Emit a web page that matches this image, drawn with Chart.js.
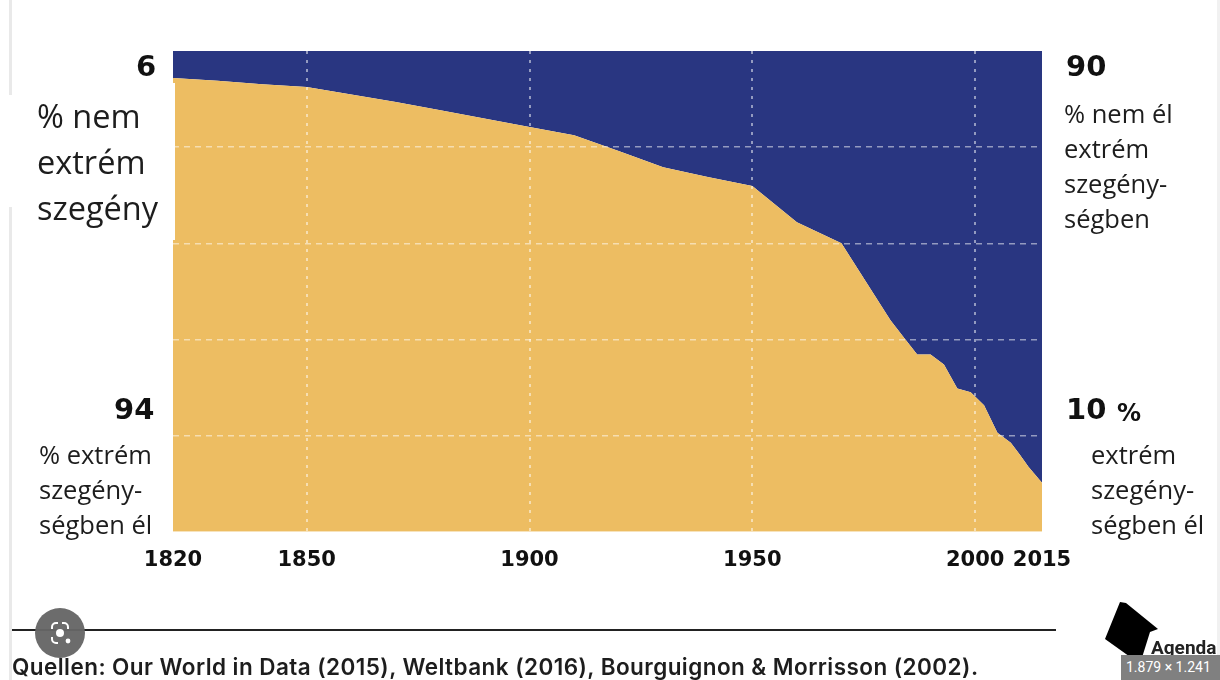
<!DOCTYPE html>
<html lang="hu">
<head>
<meta charset="utf-8">
<title>Extrém szegénység 1820-2015</title>
<script src="https://cdn.jsdelivr.net/npm/chart.js@4/dist/chart.umd.min.js"></script>
<style>
  html, body { margin: 0; background: #fff; }
  body { position: relative; width: 1220px; height: 680px; overflow: hidden; }
  #poverty { position: absolute; left: 0; top: 0; }
  .t { position: absolute; white-space: nowrap; color: #1d1d1d; font-family: "Open Sans", sans-serif; }
  .big { font-size: 32.5px; line-height: 46px; }
  .mid { font-size: 25.5px; line-height: 35px; }
  .num { font-family: "DejaVu Sans", sans-serif; font-weight: 700; font-size: 29px; line-height: 34px; color: #111; }
  .box { position: absolute; }
</style>
</head>
<body>
<canvas id="poverty" width="1220" height="680"></canvas>

<!-- edges of the screenshot -->
<div class="box" style="left:9px;top:0;width:3px;height:95px;background:#e9e9e9"></div>
<div class="box" style="left:9px;top:207px;width:3px;height:473px;background:#e9e9e9"></div>
<div class="box" style="left:1217px;top:0;width:3px;height:680px;background:#f1f1f1"></div>
<!-- white patch behind the left label -->
<div class="box" style="left:12px;top:83px;width:163px;height:157px;background:#fff"></div>

<div class="t num" style="left:136px;top:49px">6</div>
<div class="t num" style="left:1066px;top:49px">90</div>
<div class="t num" style="left:114px;top:392px">94</div>
<div class="t num" style="left:1066px;top:392px">10</div>
<div class="t num" style="left:1117px;top:396px;font-size:24px">%</div>

<div class="t big" style="left:37px;top:93px">% nem<br>extrém<br>szegény</div>
<div class="t mid" style="left:1064px;top:96px">% nem él<br>extrém<br>szegény-<br>ségben</div>
<div class="t mid" style="left:39px;top:437px">% extrém<br>szegény-<br>ségben él</div>
<div class="t mid" style="left:1091px;top:437px">extrém<br>szegény-<br>ségben él</div>

<!-- source rule and line -->
<div class="box" style="left:12px;top:629px;width:1044px;height:2px;background:#222"></div>
<div class="t" style="left:12px;top:652px;font-family:Inter,sans-serif;font-weight:600;font-size:22.5px;letter-spacing:0.44px;line-height:30px">Quellen: Our World in Data (2015), Weltbank (2016), Bourguignon &amp; Morrisson (2002).</div>

<!-- lens button -->
<svg class="box" style="left:35px;top:608px" width="50" height="50" viewBox="0 0 50 50">
  <circle cx="25" cy="25" r="25" fill="#666" fill-opacity="0.96"/>
  <path d="M17 21v-2a4 4 0 0 1 4-4h2M27 15h2a4 4 0 0 1 4 4v2M17 29v2a4 4 0 0 0 4 4h2" fill="none" stroke="#fff" stroke-width="2"/>
  <circle cx="25" cy="25" r="4" fill="#fff"/>
  <circle cx="33" cy="33" r="2.4" fill="#fff"/>
</svg>

<!-- agenda logo and image size badge -->
<svg class="box" style="left:1100px;top:598px" width="62" height="70" viewBox="0 0 62 70">
  <path d="M20 4 L26 5 L58 31 L50 34 L40 66 L5 41 Z" fill="#000"/>
</svg>
<div class="t" style="left:1151px;top:637px;font-family:Roboto,sans-serif;font-weight:700;font-size:19px;line-height:22px;color:#222">Agenda</div>
<div class="box" style="left:1121px;top:655px;width:99px;height:25px;background:#808080"></div>
<div class="t" style="left:1126px;top:658px;font-family:Roboto,sans-serif;font-size:14px;line-height:18px;color:#fff">1.879 × 1.241</div>

<script>
const years = [1820, 1830, 1840, 1850, 1870, 1880, 1900, 1910, 1920, 1930, 1940, 1950, 1960, 1970, 1981, 1984, 1987, 1990, 1993, 1996, 1999, 2002, 2005, 2008, 2010, 2012, 2015];
const extremePoor = [94.4, 93.8, 93.1, 92.5, 89.4, 87.7, 84.2, 82.5, 79.2, 75.8, 73.8, 71.9, 64.4, 60, 44, 40.4, 36.9, 36.9, 34.8, 29.8, 29, 26.3, 20.6, 18.5, 16.1, 13.5, 10.2];
const notExtremePoor = [5.6, 6.2, 6.9, 7.5, 10.6, 12.3, 15.8, 17.5, 20.8, 24.2, 26.2, 28.1, 35.6, 40, 56, 59.6, 63.1, 63.1, 65.2, 70.2, 71, 73.7, 79.4, 81.5, 83.9, 86.5, 89.8];
const yearTicks = [1820, 1850, 1900, 1950, 2000, 2015];

const toPoints = (values) => values.map((v, i) => ({ x: years[i], y: v }));
const gridColor = "rgba(255, 255, 255, 0.5)";

new Chart(document.getElementById("poverty"), {
  type: "line",
  data: {
    datasets: [
      {
        label: "% extrém szegénységben él",
        data: toPoints(extremePoor),
        backgroundColor: "#edbd62",
        borderWidth: 0,
        pointRadius: 0,
        fill: "origin",
      },
      {
        label: "% nem él extrém szegénységben",
        data: toPoints(notExtremePoor),
        backgroundColor: "#293681",
        borderWidth: 0,
        pointRadius: 0,
        fill: "-1",
      },
    ],
  },
  options: {
    responsive: false,
    animation: false,
    layout: { padding: { left: 173, right: 178, top: 51, bottom: 91 } },
    plugins: { legend: { display: false }, tooltip: { enabled: false } },
    scales: {
      x: {
        type: "linear",
        min: 1820,
        max: 2015,
        afterBuildTicks: (axis) => {
          axis.ticks = yearTicks.map((value) => ({ value }));
        },
        grid: {
          z: 1,
          drawTicks: false,
          lineWidth: 2,
          color: (ctx) =>
            ctx.tick && (ctx.tick.value === 1820 || ctx.tick.value === 2015)
              ? "transparent"
              : gridColor,
        },
        border: { display: false, dash: [3, 6] },
        ticks: {
          color: "#111",
          padding: 16,
          autoSkip: false,
          maxRotation: 0,
          font: { family: "DejaVu Sans", weight: "bold", size: 21 },
          callback: (v) => String(v),
        },
      },
      y: {
        display: true,
        stacked: true,
        min: 0,
        max: 100,
        afterFit: (axis) => {
          axis.width = 0;
        },
        ticks: { stepSize: 20, display: false },
        grid: {
          z: 1,
          drawTicks: false,
          lineWidth: 1.5,
          color: (ctx) =>
            ctx.tick && (ctx.tick.value === 0 || ctx.tick.value === 100)
              ? "transparent"
              : gridColor,
        },
        border: { display: false, dash: [6, 5] },
      },
    },
  },
});
</script>
</body>
</html>
